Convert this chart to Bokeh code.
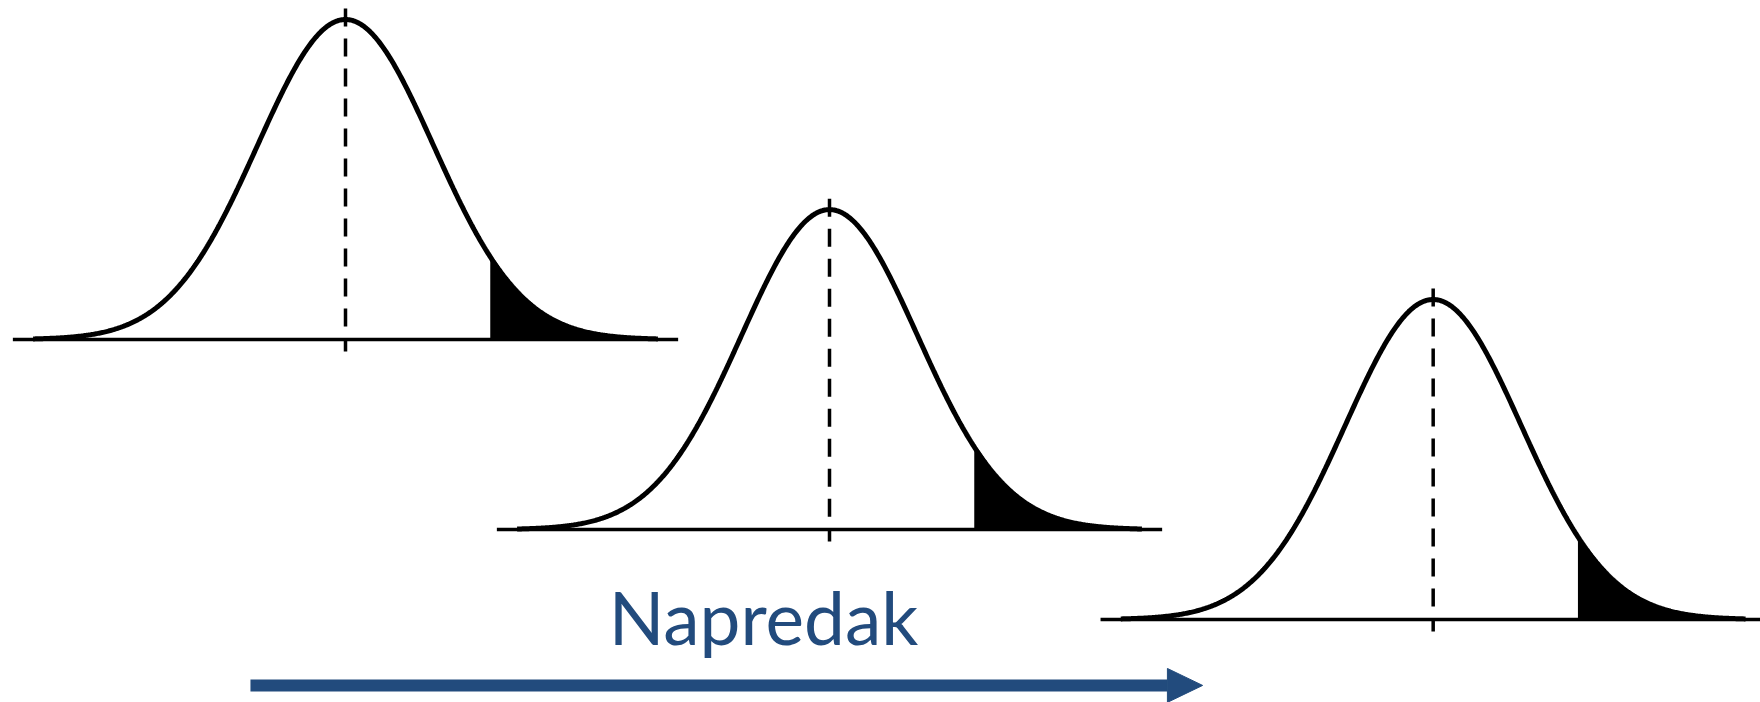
import numpy as np
from bokeh.plotting import figure
from bokeh.models import Range1d
from bokeh.core.properties import value
from bokeh.embed import file_html
from bokeh.resources import INLINE

# ---- data (x in standard-deviation units, y in peak-height units) ----
means = [0.0, 5.5, 12.36]          # centre of each distribution
baselines = [0.0, -0.594, -0.875]  # vertical level of each baseline
crit_z = 1.645                     # start of the shaded upper tail
curve_half = 3.55                  # extent of drawn curve (in sigma)
axis_half = 3.78                   # extent of baseline (in sigma)
dash_top = 1.034                   # dashed mean line above baseline
dash_bottom = -0.0375              # dashed mean line below baseline
label = "Napredak"
label_x = 4.75
label_y = -0.866
arrow_x = [-1.08, 9.34]            # shaft start / end
arrow_tip = 9.74
arrow_y = -1.081
arrow_half = 0.053

BLUE = "#224B7D"
W, H = 1760, 702
PX_X, PX_Y = 88.0, 320.0
ORIGIN_X, ORIGIN_Y = 345.0, 339.0

p = figure(width=W, height=H, output_backend="svg", toolbar_location=None,
           x_range=Range1d((0 - ORIGIN_X) / PX_X, (W - ORIGIN_X) / PX_X),
           y_range=Range1d((ORIGIN_Y - H) / PX_Y, ORIGIN_Y / PX_Y),
           min_border=0)
p.axis.visible = False
p.grid.visible = False
p.outline_line_color = None
p.background_fill_color = "white"
p.border_fill_color = "white"

for m, b in zip(means, baselines):
    z = np.linspace(-curve_half, curve_half, 600)
    y = b + np.exp(-z ** 2 / 2)
    # shaded tail
    zt = np.linspace(crit_z, curve_half, 200)
    p.varea(x=m + zt, y1=np.full_like(zt, b), y2=b + np.exp(-zt ** 2 / 2),
            fill_color="black")
    # baseline
    p.line(x=[m - axis_half, m + axis_half], y=[b, b], line_color="black",
           line_width=3.5)
    # dashed mean line
    p.line(x=[m, m], y=[b + dash_top, b + dash_bottom], line_color="black",
           line_width=3.5, line_dash="18 12")
    # curve
    p.line(x=m + z, y=y, line_color="black", line_width=5)

# progress arrow
p.line(x=arrow_x, y=[arrow_y, arrow_y], line_color=BLUE, line_width=12,
       line_cap="butt")
p.patch(x=[arrow_x[1], arrow_tip, arrow_x[1]],
        y=[arrow_y + arrow_half, arrow_y, arrow_y - arrow_half],
        fill_color=BLUE, line_color=BLUE)

p.text(x=[label_x], y=[label_y], text=[label], text_font=value("Lato"),
       text_font_size="73px", text_color=BLUE, text_align="center",
       text_baseline="alphabetic")

open("out.html", "w").write(file_html(p, INLINE))
